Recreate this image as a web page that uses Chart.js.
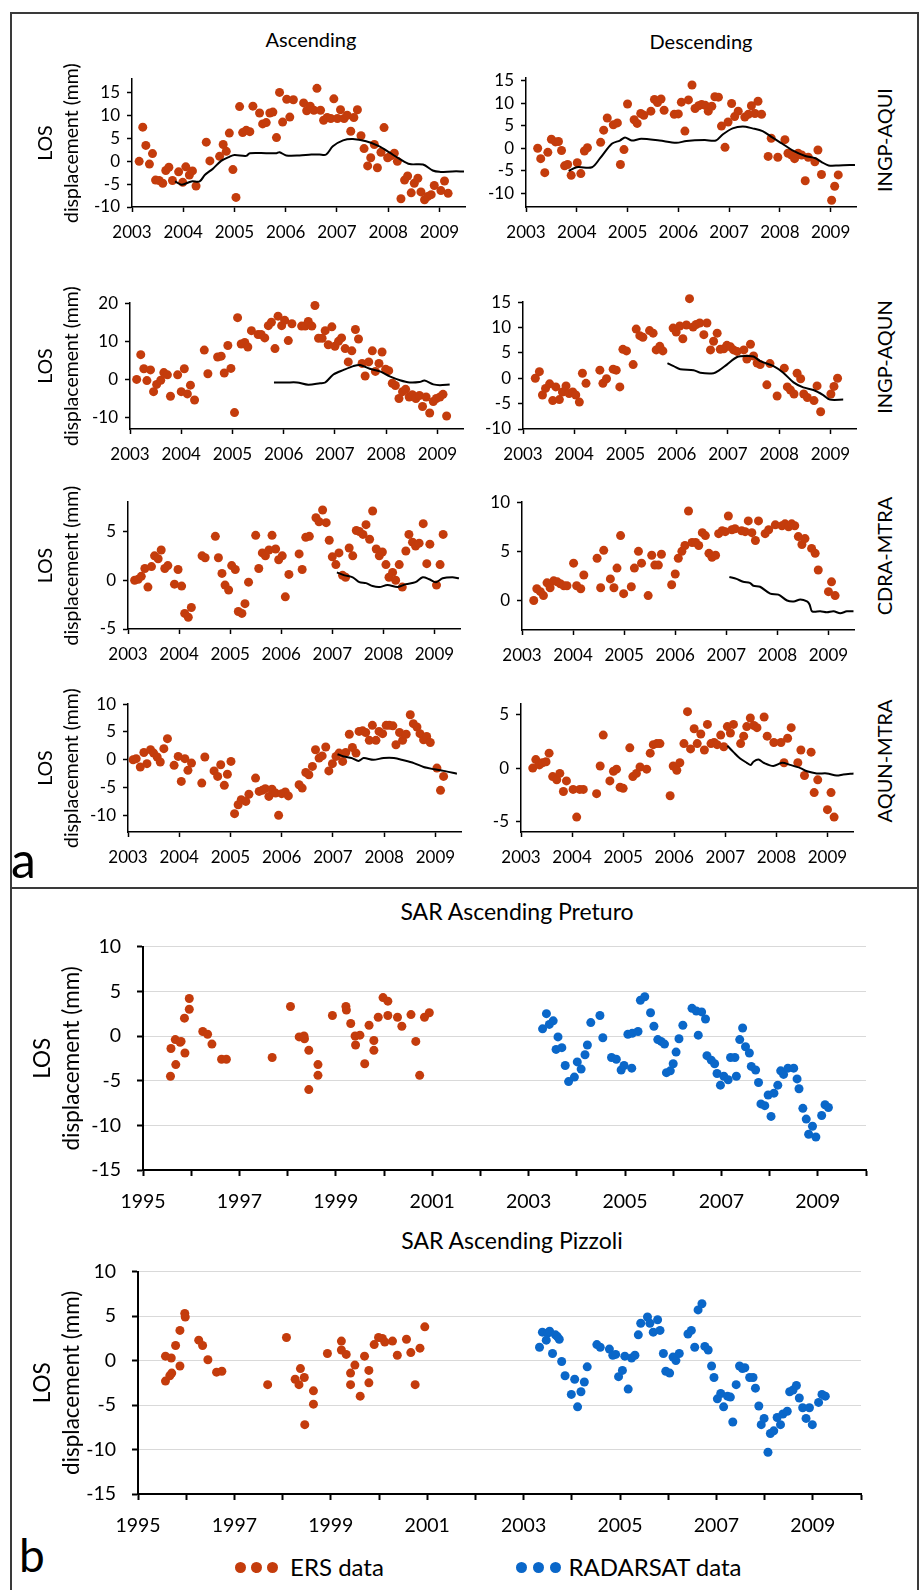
<!DOCTYPE html>
<html>
<head>
<meta charset="utf-8">
<script src="https://cdn.jsdelivr.net/npm/chart.js@4.4.1/dist/chart.umd.min.js"></script>
<style>
  body { margin: 0; background: #fff; }
  #page { position: relative; width: 919px; height: 1590px; overflow: hidden; font-family: Lato, sans-serif; color: #000; }
  canvas, .lbl, .frame { position: absolute; }
  .frame { border: 2px solid #3a3a3a; box-sizing: border-box; }
  .lbl { white-space: nowrap; line-height: 1; }
  .mid { transform: translate(-50%, -50%); }
  .side { transform: translate(-50%, -50%) rotate(-90deg); font-size: 20px; }
  .dot { position: absolute; width: 11px; height: 11px; border-radius: 50%; }
</style>
</head>
<body>
<div id="page">
  <div class="frame" style="left:10px; top:12px; width:909px; height:877px"></div>
  <div class="frame" style="left:10px; top:887px; width:909px; height:720px"></div>

  <div class="lbl mid" style="left:311px; top:39px; font-size:20px">Ascending</div>
  <div class="lbl mid" style="left:701px; top:41px; font-size:20px">Descending</div>
  <div class="lbl side" style="left:884px; top:140px">INGP-AQUI</div>
  <div class="lbl side" style="left:884px; top:357px">INGP-AQUN</div>
  <div class="lbl side" style="left:884px; top:556px">CDRA-MTRA</div>
  <div class="lbl side" style="left:884px; top:761px">AQUN-MTRA</div>
  <div class="lbl" style="left:11px; top:834px; font-size:50px">a</div>

  <div class="lbl mid" style="left:517px; top:911px; font-size:23px">SAR Ascending Preturo</div>
  <div class="lbl mid" style="left:512px; top:1240px; font-size:23px">SAR Ascending Pizzoli</div>
  <div class="lbl" style="left:19px; top:1532px; font-size:46px">b</div>

  <div class="dot" style="left:235px; top:1562px; background:#c43c0c"></div>
  <div class="dot" style="left:251px; top:1562px; background:#c43c0c"></div>
  <div class="dot" style="left:267px; top:1562px; background:#c43c0c"></div>
  <div class="lbl mid" style="left:337px; top:1567px; font-size:24px">ERS data</div>
  <div class="dot" style="left:516px; top:1562px; background:#0a67c9"></div>
  <div class="dot" style="left:533px; top:1562px; background:#0a67c9"></div>
  <div class="dot" style="left:550px; top:1562px; background:#0a67c9"></div>
  <div class="lbl mid" style="left:655px; top:1567px; font-size:24px">RADARSAT data</div>
</div>

<script>
// tick labels
const yearsA = [2003, 2004, 2005, 2006, 2007, 2008, 2009]
const yearsB = [1995, 1996, 1997, 1998, 1999, 2000, 2001, 2002, 2003, 2004, 2005, 2006, 2007, 2008, 2009, 2010]

// panel a, INGP-AQUI
const ascAquiSar = [[2003.14,0],[2003.21,7.5],[2003.27,3.5],[2003.34,-0.6],[2003.4,1.7],[2003.46,-4.1],[2003.53,-4.2],[2003.6,-4.8],[2003.66,-2],[2003.72,-1.3],[2003.79,-4.2],[2003.91,-2.3],[2003.99,-4.6],[2004.05,-1.2],[2004.12,-3],[2004.18,-2.1],[2004.25,-5.4],[2004.45,4.2],[2004.52,0.1],[2004.71,1.1],[2004.78,3.7],[2004.84,2.2],[2004.9,6.2],[2004.97,-1.8],[2005.03,-7.9],[2005.1,12],[2005.16,6.3],[2005.23,6.8],[2005.3,6.5],[2005.36,12.1],[2005.49,10.6],[2005.55,8.2],[2005.62,8.5],[2005.69,10.6],[2005.75,10.8],[2005.82,5.2],[2005.88,15.1],[2005.94,8.6],[2006.02,13.6],[2006.08,9.7],[2006.15,13.5],[2006.35,12.8],[2006.41,11.1],[2006.48,12.1],[2006.55,11.2],[2006.61,16],[2006.68,11.2],[2006.74,9],[2006.81,9.6],[2006.88,9.4],[2006.94,13.7],[2007.01,9.4],[2007.07,11.3],[2007.14,9.4],[2007.2,10.1],[2007.27,6.6],[2007.33,9.6],[2007.4,11.3],[2007.47,5.6],[2007.53,2.8],[2007.6,-1],[2007.66,0.8],[2007.73,3.7],[2007.79,-1.4],[2007.86,2],[2007.92,7.4],[2007.99,0.8],[2008.05,1.2],[2008.12,1.8],[2008.18,0],[2008.25,-8.2],[2008.32,-4.1],[2008.38,-3.2],[2008.45,-6.9],[2008.51,-4.8],[2008.58,-3.7],[2008.64,-6.7],[2008.71,-8.4],[2008.77,-7.7],[2008.84,-7.3],[2008.9,-5.3],[2009.03,-6.4],[2009.1,-4.3],[2009.17,-7]]
const ascAquiGps = [[2003.84,-4.4],[2003.97,-5.1],[2004.16,-4.4],[2004.32,-4.4],[2004.42,-3],[2004.58,-1.6],[2004.74,0.1],[2004.9,1],[2005,1.4],[2005.23,1.2],[2005.3,1.8],[2005.62,1.8],[2005.82,1.8],[2005.88,2],[2006.01,1.3],[2006.27,1.3],[2006.5,1.5],[2006.66,1.5],[2006.79,1.5],[2006.92,3.3],[2007.12,4.6],[2007.31,4.9],[2007.57,4.4],[2007.83,3.3],[2008.03,1.9],[2008.23,0.5],[2008.42,-0.6],[2008.68,-0.7],[2008.87,-2],[2009,-2.3],[2009.25,-2.2],[2009.48,-2.2]]
const descAquiSar = [[2003.23,0],[2003.29,-2.3],[2003.37,-5.4],[2003.43,-0.9],[2003.5,2],[2003.58,1.4],[2003.64,1.5],[2003.7,-0.5],[2003.76,-3.9],[2003.82,-3.6],[2003.89,-6],[2004.01,-3.2],[2004.08,-5.6],[2004.15,-0.6],[2004.21,0.1],[2004.47,1.3],[2004.53,4],[2004.6,6.7],[2004.72,5.2],[2004.8,5.6],[2004.86,-3.6],[2004.93,-0.3],[2005,9.8],[2005.13,6.3],[2005.19,5.5],[2005.26,7.7],[2005.32,7.3],[2005.46,8.2],[2005.53,10.8],[2005.59,10.1],[2005.66,10.9],[2005.72,8.4],[2005.92,7.5],[2006,7.6],[2006.06,10.2],[2006.13,3.8],[2006.2,10.7],[2006.27,14],[2006.33,8.8],[2006.4,9.4],[2006.46,9.7],[2006.53,9.5],[2006.59,8.2],[2006.66,9.3],[2006.72,11.4],[2006.79,11.3],[2006.85,4.9],[2006.92,0.2],[2006.98,5.8],[2007.05,9.9],[2007.11,7],[2007.18,8.2],[2007.31,6.9],[2007.38,7.5],[2007.44,9.4],[2007.51,7.7],[2007.57,10.4],[2007.64,7.5],[2007.77,-1.8],[2007.83,2.2],[2007.96,-2],[2008.1,1.9],[2008.16,-1.1],[2008.23,-1.5],[2008.29,-2.3],[2008.36,-1.1],[2008.43,-1.5],[2008.5,-7.2],[2008.56,-2],[2008.69,-3],[2008.75,-0.4],[2008.82,-5.8],[2009.02,-11.5],[2009.08,-8.4],[2009.15,-5.9]]
const descAquiGps = [[2003.84,-5],[2004,-4.2],[2004.3,-4.2],[2004.46,-2.2],[2004.69,1],[2004.85,1.7],[2004.95,2.4],[2005.08,1.7],[2005.27,2.1],[2005.63,1.7],[2005.96,1.2],[2006.16,1.6],[2006.52,1.8],[2006.74,1.7],[2006.88,3.1],[2007.07,4.4],[2007.27,4.8],[2007.46,4.4],[2007.66,3.8],[2007.85,2.4],[2008.05,1],[2008.24,-0.4],[2008.5,-1.7],[2008.7,-2.2],[2008.83,-3.1],[2008.96,-3.8],[2009.16,-3.8],[2009.48,-3.7]]

// panel a, INGP-AQUN
const ascAqunSar = [[2003.13,0],[2003.21,6.5],[2003.27,2.8],[2003.33,-0.3],[2003.4,2.5],[2003.46,-3.2],[2003.52,-1.3],[2003.6,-0.2],[2003.66,1.8],[2003.73,1.2],[2003.79,-4.4],[2003.93,1.2],[2004,-3.2],[2004.06,2.8],[2004.12,-3.8],[2004.18,-1.5],[2004.26,-5.4],[2004.45,7.7],[2004.52,1.5],[2004.71,5.9],[2004.78,6.1],[2004.84,1.7],[2004.91,8.9],[2004.97,2.9],[2005.04,-8.7],[2005.1,16.2],[2005.17,9.3],[2005.24,9.7],[2005.3,8.5],[2005.37,12.8],[2005.5,11.8],[2005.56,11.8],[2005.63,10.9],[2005.7,14.1],[2005.76,15],[2005.83,8.1],[2005.89,16.6],[2005.96,14.1],[2006.02,15.5],[2006.09,10.2],[2006.16,14.6],[2006.35,14],[2006.42,14],[2006.48,15.2],[2006.55,14],[2006.61,19.4],[2006.68,10.8],[2006.75,10.8],[2006.81,12.8],[2006.87,9.1],[2006.94,13.8],[2007,8.7],[2007.07,10],[2007.13,10.9],[2007.2,8.1],[2007.26,4.6],[2007.33,7.5],[2007.4,13.1],[2007.46,10.6],[2007.53,4.2],[2007.59,0.9],[2007.66,4.6],[2007.73,7.5],[2007.79,2.1],[2007.86,4.2],[2007.92,7.2],[2007.99,2.7],[2008.05,2.3],[2008.12,-1],[2008.18,-1.6],[2008.25,-5],[2008.32,-3.2],[2008.38,-2.6],[2008.45,-4.6],[2008.51,-4],[2008.58,-5],[2008.65,-4.2],[2008.71,-7.1],[2008.78,-4.6],[2008.85,-8.8],[2008.92,-5.8],[2008.98,-5],[2009.05,-4.6],[2009.11,-3.9],[2009.18,-9.6]]
const ascAqunGps = [[2005.81,-0.8],[2006.06,-0.8],[2006.26,-0.8],[2006.48,-1.4],[2006.71,-1],[2006.81,-0.8],[2006.97,1.3],[2007.17,2.5],[2007.36,3.5],[2007.49,3.8],[2007.68,2.8],[2007.88,2.1],[2008.07,0.8],[2008.27,-0.2],[2008.46,-0.8],[2008.65,-0.7],[2008.75,-0.3],[2008.92,-1.3],[2009.05,-1.5],[2009.24,-1.3]]
const descAqunSar = [[2003.24,0],[2003.32,1.3],[2003.38,-3.3],[2003.44,-2],[2003.52,-1.1],[2003.58,-4.4],[2003.64,-1.7],[2003.71,-4.2],[2003.77,-2.7],[2003.84,-1.5],[2003.9,-3],[2003.97,-2.7],[2004.03,-3.3],[2004.1,-4.7],[2004.16,1],[2004.23,-1],[2004.5,1.6],[2004.56,-1],[2004.63,-0.1],[2004.76,1.8],[2004.82,1.6],[2004.89,-1.7],[2004.95,5.7],[2005.02,5.4],[2005.15,2.7],[2005.21,9.7],[2005.28,8.4],[2005.34,8.1],[2005.47,9.4],[2005.54,8.9],[2005.6,5.6],[2005.67,6.3],[2005.73,5.4],[2005.93,9.9],[2005.99,9.1],[2006.06,10.3],[2006.12,7.8],[2006.19,10.5],[2006.25,15.7],[2006.32,10.1],[2006.38,10.6],[2006.45,10.9],[2006.53,8.6],[2006.59,10.9],[2006.66,5.6],[2006.72,7.3],[2006.79,8.9],[2006.85,5.7],[2006.92,5.8],[2006.98,6.5],[2007.05,6.2],[2007.11,5.6],[2007.18,5.3],[2007.31,5.6],[2007.37,3.8],[2007.44,6.7],[2007.5,4.4],[2007.57,3],[2007.63,2.7],[2007.76,-1.3],[2007.82,2.9],[2007.96,-3.5],[2008.1,2],[2008.16,-1.7],[2008.22,-2.3],[2008.29,-3.1],[2008.35,1],[2008.42,-0.1],[2008.48,-3.1],[2008.55,-3.8],[2008.68,-4.4],[2008.74,-1.5],[2008.81,-6.6],[2009.01,-3.1],[2009.07,-1.6],[2009.14,0]]
const descAqunGps = [[2005.82,3],[2005.94,2.4],[2006.07,1.8],[2006.33,1.6],[2006.46,1.1],[2006.72,1],[2006.82,1.5],[2006.98,2.7],[2007.18,4.2],[2007.37,4.4],[2007.5,4.3],[2007.63,3.4],[2007.89,2.4],[2008.08,1.1],[2008.28,-0.8],[2008.47,-1.8],[2008.67,-2.3],[2008.86,-3.3],[2008.99,-4.2],[2009.25,-4.2]]

// panel a, CDRA-MTRA
const ascCdraSar = [[2003.13,0],[2003.2,0.1],[2003.26,0.4],[2003.33,1.2],[2003.39,-0.7],[2003.46,1.4],[2003.52,2.5],[2003.59,2.2],[2003.65,3.1],[2003.72,1.2],[2003.78,1.5],[2003.91,-0.4],[2003.98,1.1],[2004.05,-0.6],[2004.11,-3.4],[2004.18,-3.8],[2004.24,-2.8],[2004.45,2.5],[2004.51,2.3],[2004.71,4.5],[2004.77,2.3],[2004.84,0.7],[2004.9,-0.5],[2004.97,-1],[2005.03,1.5],[2005.1,1.1],[2005.16,-3.2],[2005.23,-3.4],[2005.29,-2.4],[2005.36,-0.2],[2005.5,4.6],[2005.56,1.2],[2005.63,2.8],[2005.69,2.5],[2005.76,3.1],[2005.82,4.6],[2005.89,3.2],[2005.95,2.1],[2006.02,2.5],[2006.08,-1.7],[2006.15,0.6],[2006.35,2.7],[2006.41,1.1],[2006.48,4.4],[2006.55,4.5],[2006.61,8.8],[2006.68,6.4],[2006.74,6],[2006.81,7.2],[2006.88,5.9],[2006.94,4.1],[2007,2.4],[2007.07,1.6],[2007.13,2.8],[2007.2,0.5],[2007.26,0.3],[2007.33,3.3],[2007.4,2.5],[2007.47,5.1],[2007.53,5],[2007.6,4.7],[2007.66,5.7],[2007.73,4.2],[2007.79,7.1],[2007.86,3.2],[2007.92,2.5],[2007.98,2.9],[2008.05,1.6],[2008.11,0.3],[2008.18,0.8],[2008.24,0],[2008.31,1.6],[2008.37,-0.7],[2008.44,3],[2008.5,4.7],[2008.57,3.9],[2008.63,3.5],[2008.7,3.8],[2008.78,5.8],[2008.85,1.7],[2008.91,3.7],[2009.04,-0.5],[2009.11,1.6],[2009.17,4.7]]
const ascCdraGps = [[2007.09,0.8],[2007.24,0.5],[2007.4,0.3],[2007.53,-0.2],[2007.66,-0.3],[2007.79,-0.6],[2007.92,-0.7],[2008.08,-0.5],[2008.28,-0.7],[2008.44,-0.4],[2008.63,-0.2],[2008.77,0.3],[2008.9,0.1],[2009.03,-0.2],[2009.16,0.2],[2009.35,0.3],[2009.48,0.2]]
const descCdraSar = [[2003.23,0],[2003.29,1.2],[2003.36,0.9],[2003.42,0.5],[2003.49,1.8],[2003.55,1.3],[2003.62,2],[2003.69,1.9],[2003.75,1.7],[2003.82,1.5],[2003.88,1.5],[2004.01,3.8],[2004.07,1.5],[2004.15,1.2],[2004.21,2.6],[2004.47,4.3],[2004.54,1.3],[2004.6,5.1],[2004.73,2.2],[2004.8,1.3],[2004.86,3.3],[2004.93,6.6],[2004.99,0.7],[2005.14,1.4],[2005.2,3.3],[2005.28,5],[2005.34,3.8],[2005.47,0.5],[2005.54,4.6],[2005.6,3.6],[2005.67,3.6],[2005.73,4.7],[2005.93,1.6],[2006,2.7],[2006.06,4.3],[2006.13,5],[2006.19,5.6],[2006.26,9.1],[2006.33,5.9],[2006.4,5.9],[2006.46,5.6],[2006.53,6.9],[2006.59,6.6],[2006.66,4.8],[2006.72,4.4],[2006.79,4.6],[2006.85,6.8],[2006.92,7.1],[2006.98,7],[2007.04,8.6],[2007.11,7.2],[2007.17,7.3],[2007.3,7.1],[2007.37,7],[2007.43,8.1],[2007.5,6.9],[2007.57,6.1],[2007.63,8.1],[2007.76,6.8],[2007.83,7.2],[2007.96,7.7],[2008.09,7.6],[2008.15,7.8],[2008.22,7.5],[2008.28,7.8],[2008.34,7.6],[2008.41,6.5],[2008.48,5.7],[2008.54,6.3],[2008.67,5.3],[2008.74,4.8],[2008.8,3.1],[2009,0.9],[2009.06,1.9],[2009.13,0.5]]
const descCdraGps = [[2007.06,2.4],[2007.2,2.2],[2007.33,1.9],[2007.46,1.8],[2007.53,1.5],[2007.66,1.4],[2007.86,0.7],[2008.02,0.6],[2008.19,0],[2008.32,-0.1],[2008.45,0.1],[2008.58,-0.1],[2008.63,-0.4],[2008.68,-1.1],[2008.84,-1.1],[2008.97,-1.2],[2009.1,-1.1],[2009.23,-1.3],[2009.36,-1.1],[2009.49,-1.1]]

// panel a, AQUN-MTRA
const ascMtraSar = [[2003.1,0],[2003.16,0.2],[2003.24,-1.3],[2003.31,1.3],[2003.37,-0.7],[2003.44,1.8],[2003.5,1.2],[2003.57,0.5],[2003.63,-0.4],[2003.7,2],[2003.77,3.8],[2003.9,-1],[2003.98,0.6],[2004.04,-3.9],[2004.11,0.2],[2004.17,-1.9],[2004.24,-0.6],[2004.44,-4.2],[2004.5,0.5],[2004.68,-2],[2004.75,-3],[2004.81,-0.9],[2004.88,-4.6],[2004.94,-2.6],[2005.01,-0.3],[2005.08,-9.7],[2005.15,-8.1],[2005.21,-7.2],[2005.3,-7.5],[2005.36,-6.2],[2005.49,-3.3],[2005.56,-5.7],[2005.62,-5.5],[2005.68,-5.2],[2005.75,-6.6],[2005.81,-5.3],[2005.88,-6],[2005.94,-10],[2006,-6.1],[2006.07,-5.8],[2006.13,-6.5],[2006.34,-4.5],[2006.4,-5.1],[2006.47,-2.3],[2006.53,-2.7],[2006.6,-1.2],[2006.66,1.8],[2006.73,0.3],[2006.79,0.7],[2006.86,2.3],[2006.92,-2],[2006.99,-0.7],[2007.06,0.6],[2007.12,1.2],[2007.19,-0.3],[2007.25,1.3],[2007.32,4.6],[2007.38,2.2],[2007.45,1.2],[2007.51,5.1],[2007.58,5.2],[2007.64,4.9],[2007.71,3.5],[2007.77,6.2],[2007.84,3.5],[2007.9,5.1],[2007.97,4.7],[2008.04,6.2],[2008.1,6.2],[2008.17,6.1],[2008.23,2.7],[2008.3,4.9],[2008.36,3.5],[2008.43,4.6],[2008.51,8.1],[2008.57,6.5],[2008.64,5.9],[2008.7,4.7],[2008.77,3.6],[2008.83,4.2],[2008.9,3.1],[2009.03,-1.5],[2009.1,-5.5],[2009.16,-3]]
const ascMtraGps = [[2007.09,1],[2007.21,0.6],[2007.37,0.3],[2007.5,-0.2],[2007.6,0.3],[2007.79,0],[2007.99,0.3],[2008.19,0.3],[2008.38,-0.1],[2008.58,-0.6],[2008.77,-1.3],[2008.97,-1.7],[2009.16,-2],[2009.42,-2.5]]
const descMtraSar = [[2003.23,0],[2003.29,0.8],[2003.36,0.3],[2003.42,0.5],[2003.49,0.6],[2003.55,1.4],[2003.62,-0.8],[2003.7,-1.1],[2003.76,-0.5],[2003.83,-2.2],[2003.89,-1.2],[2004.02,-2],[2004.09,-4.6],[2004.15,-2],[2004.22,-2],[2004.48,-2.4],[2004.55,0.2],[2004.61,3.1],[2004.74,-1.2],[2004.81,-0.3],[2004.87,-0.1],[2004.94,-1.8],[2005,-1.9],[2005.13,1.9],[2005.19,-0.8],[2005.26,-0.5],[2005.33,0.1],[2005.46,-0.1],[2005.53,1.4],[2005.59,2.2],[2005.66,2.3],[2005.72,2.3],[2005.92,-2.6],[2005.98,0.2],[2006.05,-0.2],[2006.11,0.5],[2006.19,2.3],[2006.26,5.3],[2006.32,1.8],[2006.39,3.7],[2006.45,2.3],[2006.52,3.2],[2006.59,1.7],[2006.65,4.1],[2006.72,2.3],[2006.78,2.4],[2006.84,2.2],[2006.91,3.1],[2006.97,2],[2007.04,3.9],[2007.1,3.3],[2007.16,4.1],[2007.3,2.3],[2007.36,3],[2007.42,3.9],[2007.49,4.7],[2007.56,4],[2007.62,3.8],[2007.76,4.8],[2007.82,3],[2007.95,2.4],[2008.09,2.4],[2008.15,0.5],[2008.22,2.8],[2008.29,3.8],[2008.42,0.5],[2008.48,1.7],[2008.55,-0.7],[2008.68,1.5],[2008.74,-2.3],[2008.81,-1.1],[2009,-3.9],[2009.07,-2.3],[2009.13,-4.6]]
const descMtraGps = [[2007.04,2.1],[2007.16,1.5],[2007.29,0.9],[2007.42,0.5],[2007.5,0.3],[2007.55,0.6],[2007.65,0.8],[2007.75,0.5],[2007.94,0.2],[2008.11,0.5],[2008.27,0.3],[2008.47,0],[2008.6,-0.3],[2008.79,-0.5],[2008.99,-0.5],[2009.18,-0.7],[2009.31,-0.6],[2009.51,-0.5]]

// panel b, Preturo
const preturoErs = [[1995.57,-4.5],[1995.58,-1.4],[1995.67,-0.4],[1995.68,-3.2],[1995.77,-0.7],[1995.79,-0.6],[1995.86,2],[1995.87,-1.9],[1995.96,3],[1995.96,4.2],[1996.24,0.5],[1996.34,0.2],[1996.43,-0.9],[1996.63,-2.6],[1996.73,-2.6],[1997.68,-2.4],[1998.06,3.3],[1998.24,-0.1],[1998.34,0],[1998.35,-0.3],[1998.44,-1.6],[1998.44,-6],[1998.63,-3.2],[1998.63,-4.4],[1998.93,2.3],[1999.21,3.3],[1999.22,2.9],[1999.31,1.4],[1999.4,0],[1999.41,-1],[1999.5,0.1],[1999.6,-3.1],[1999.69,1.2],[1999.79,-0.5],[1999.79,-1.6],[1999.88,2.1],[1999.98,4.3],[2000.08,3.9],[2000.08,2.3],[2000.28,2.1],[2000.37,1.1],[2000.56,2.4],[2000.66,-0.6],[2000.74,-4.4],[2000.84,2.1],[2000.94,2.6]]
const preturoRadarsat = [[2003.29,0.8],[2003.37,2.5],[2003.43,1.3],[2003.51,1.7],[2003.57,-1.5],[2003.61,-0.1],[2003.69,-1.3],[2003.76,-3.3],[2003.83,-5.1],[2003.95,-4.6],[2004.01,-2.9],[2004.09,-3.7],[2004.17,-2.1],[2004.22,-1],[2004.29,1.5],[2004.48,2.3],[2004.54,-0.2],[2004.72,-2.4],[2004.82,-2.6],[2004.92,-3.8],[2004.98,-3.3],[2005.06,0.2],[2005.14,-3.6],[2005.15,0.3],[2005.27,0.5],[2005.32,4],[2005.41,4.4],[2005.53,2.6],[2005.6,1.1],[2005.68,-0.4],[2005.75,-0.6],[2005.82,-0.9],[2005.86,-4.1],[2005.94,-3.9],[2006,-3.1],[2006.06,-1.8],[2006.12,-0.3],[2006.2,1.2],[2006.39,3.1],[2006.48,2.8],[2006.52,0.1],[2006.59,2.7],[2006.67,1.9],[2006.7,-2.2],[2006.79,-2.7],[2006.86,-3.1],[2006.91,-4.2],[2006.98,-5.5],[2007.05,-4.5],[2007.14,-4.9],[2007.19,-2.4],[2007.28,-2.4],[2007.31,-4.5],[2007.38,-0.4],[2007.44,0.9],[2007.5,-1.2],[2007.58,-1.9],[2007.62,-3.4],[2007.71,-3.8],[2007.77,-5.2],[2007.82,-7.6],[2007.9,-7.8],[2007.97,-6.6],[2008.03,-9],[2008.09,-6.4],[2008.17,-5.5],[2008.23,-3.9],[2008.29,-4.3],[2008.38,-3.6],[2008.5,-3.6],[2008.57,-4.8],[2008.61,-5.9],[2008.69,-8.1],[2008.76,-9.3],[2008.81,-11],[2008.89,-10.1],[2008.96,-11.3],[2009.08,-8.9],[2009.15,-7.7],[2009.22,-8]]

// panel b, Pizzoli
const pizzoliErs = [[1995.57,-2.3],[1995.57,0.5],[1995.66,-1.7],[1995.69,0.3],[1995.7,-1.4],[1995.78,1.7],[1995.87,3.4],[1995.87,-0.6],[1995.97,5.3],[1995.98,4.9],[1996.26,2.3],[1996.34,1.7],[1996.45,0.1],[1996.63,-1.3],[1996.74,-1.2],[1997.69,-2.7],[1998.08,2.6],[1998.26,-2.1],[1998.34,-2.7],[1998.37,-0.9],[1998.45,-1.9],[1998.46,-7.2],[1998.64,-3.4],[1998.64,-4.9],[1998.93,0.8],[1999.22,2.2],[1999.22,1.2],[1999.32,0.7],[1999.41,-1.4],[1999.41,-2.7],[1999.5,-0.5],[1999.61,-4],[1999.7,0.5],[1999.79,-1.1],[1999.79,-2.5],[1999.9,1.8],[1999.99,2.6],[2000.07,2.5],[2000.12,2.1],[2000.28,2.2],[2000.38,0.6],[2000.57,2.4],[2000.66,0.9],[2000.75,-2.7],[2000.85,1.4],[2000.95,3.8]]
const pizzoliRadarsat = [[2003.33,1.5],[2003.39,3.2],[2003.47,2.3],[2003.5,3.1],[2003.54,3.3],[2003.6,0.8],[2003.66,2.9],[2003.7,2.7],[2003.74,2.4],[2003.79,-0.1],[2003.86,-1.7],[2003.99,-3.8],[2004.06,-2.1],[2004.12,-5.2],[2004.19,-3.5],[2004.26,-2.4],[2004.32,-0.7],[2004.52,1.8],[2004.59,1.5],[2004.78,1.3],[2004.85,0.6],[2004.91,0.7],[2004.97,-1.8],[2005.05,-1.1],[2005.1,0.5],[2005.17,-3.2],[2005.24,0.3],[2005.31,0.6],[2005.38,2.9],[2005.43,4.2],[2005.57,4.9],[2005.62,4.2],[2005.69,3.2],[2005.78,4.6],[2005.83,3.4],[2005.9,0.8],[2005.95,-1.2],[2006.03,-1.4],[2006.1,0.4],[2006.16,0],[2006.23,0.8],[2006.41,3],[2006.48,3.4],[2006.55,1.5],[2006.62,5.7],[2006.7,6.4],[2006.76,1.6],[2006.83,1.2],[2006.9,-0.6],[2006.95,-1.9],[2007.02,-4.3],[2007.09,-3.7],[2007.15,-5.2],[2007.23,-4],[2007.29,-4.1],[2007.34,-6.9],[2007.41,-2.7],[2007.48,-0.6],[2007.54,-0.9],[2007.59,-0.8],[2007.69,-1.9],[2007.76,-1.9],[2007.81,-3.1],[2007.88,-5.1],[2007.93,-7.2],[2007.99,-6.5],[2008.07,-10.3],[2008.12,-8.2],[2008.19,-7.9],[2008.26,-6.4],[2008.33,-7.2],[2008.38,-6],[2008.47,-5.7],[2008.52,-3.5],[2008.59,-3.3],[2008.66,-2.8],[2008.72,-4.2],[2008.79,-5.3],[2008.86,-6.5],[2008.93,-5.3],[2008.99,-7.2],[2009.12,-4.7],[2009.19,-3.8],[2009.26,-4]]

const sarRed = "#c43c0c"
const radarBlue = "#0a67c9"
const gpsBlack = "#000"

Chart.defaults.font.family = "Lato"

const styleA = { padTop: 12, padRight: 12, xAxisH: 44, tickLen: 5, xPad: 10, yPad: 7, tickFont: 17, axisW: 1.5, dotRadius: 4.5, titleFont: 19.5, titleLH: 1.33, titlePad: 18 }
const styleB = { padTop: 14, padRight: 12, xAxisH: 48, tickLen: 6, xPad: 14, yPad: 16, tickFont: 19.5, axisW: 2, dotRadius: 4.5, titleFont: 22.5, titleLH: 1.29, titlePad: 13.5, gridColor: "#d9d9d9" }

const page = document.getElementById("page")

function placeCanvas(plot, yAxisW, s) {
  const c = document.createElement("canvas")
  const w = plot.right - plot.left + yAxisW + s.padRight
  const h = plot.bottom - plot.top + s.padTop + s.xAxisH
  c.width = w
  c.height = h
  c.style.left = (plot.left - yAxisW) + "px"
  c.style.top = (plot.top - s.padTop) + "px"
  c.style.width = w + "px"
  c.style.height = h + "px"
  page.appendChild(c)
  return c
}

const fixedTicks = values => scale => { scale.ticks = values.map(v => ({ value: v })) }

function drawChart(p) {
  const s = p.style
  const canvas = placeCanvas(p.plot, p.yAxisW, s)

  // line first so it sits on top of the dots
  const datasets = p.series.map(d => ({
    data: d.points.map(([x, y]) => ({ x, y })),
    showLine: d.line,
    borderColor: d.color,
    backgroundColor: d.color,
    borderWidth: d.line ? 2 : 0,
    pointRadius: d.line ? 0 : s.dotRadius,
    tension: d.line ? 0.3 : 0,
    clip: false
  }))

  new Chart(canvas, {
    type: "scatter",
    data: { datasets },
    options: {
      responsive: false,
      animation: false,
      events: [],
      devicePixelRatio: 1,
      layout: { padding: { top: s.padTop, right: s.padRight, left: 0, bottom: 0 } },
      plugins: { legend: { display: false }, tooltip: { enabled: false } },
      scales: {
        x: {
          type: "linear",
          min: p.xMin,
          max: p.xMax,
          afterBuildTicks: fixedTicks(p.xTicks),
          afterFit: sc => { sc.height = s.xAxisH },
          grid: { display: true, drawOnChartArea: false, drawTicks: true, tickLength: s.tickLen, tickColor: "#000", tickWidth: s.axisW },
          border: { display: true, color: "#000", width: s.axisW },
          ticks: { autoSkip: false, maxRotation: 0, padding: s.xPad, color: "#000", font: { size: s.tickFont }, callback: p.xLabel }
        },
        y: {
          type: "linear",
          min: p.yMin,
          max: p.yMax,
          afterBuildTicks: fixedTicks(p.yTicks),
          afterFit: sc => { sc.width = p.yAxisW },
          grid: { display: true, drawOnChartArea: !!s.gridColor, color: s.gridColor || "#000", lineWidth: 1, drawTicks: true, tickLength: s.tickLen, tickColor: "#000", tickWidth: s.axisW },
          border: { display: true, color: "#000", width: s.axisW },
          ticks: { padding: s.yPad, color: "#000", font: { size: s.tickFont }, callback: v => String(v) },
          title: {
            display: !!p.yTitle,
            text: ["LOS", "displacement (mm)"],
            color: "#000",
            font: { size: s.titleFont, lineHeight: s.titleLH },
            padding: { top: s.titlePad, bottom: 0 }
          }
        }
      }
    }
  })
}

const labelA = v => String(v)
const labelB = v => (v % 2 === 1 ? String(v) : "")

function panelA(plot, yAxisW, yTitle, yMin, yMax, yTicks, sar, gps) {
  drawChart({
    style: styleA, plot, yAxisW, yTitle,
    xMin: 2003, xMax: 2009.5, xTicks: yearsA, xLabel: labelA,
    yMin, yMax, yTicks,
    series: [
      { points: gps, color: gpsBlack, line: true },
      { points: sar, color: sarRed, line: false }
    ]
  })
}

function panelB(plot, ers, radarsat) {
  drawChart({
    style: styleB, plot, yAxisW: plot.left - 15, yTitle: true,
    xMin: 1995, xMax: 2010, xTicks: yearsB, xLabel: labelB,
    yMin: -15, yMax: 10, yTicks: [-15, -10, -5, 0, 5, 10],
    series: [
      { points: ers, color: sarRed, line: false },
      { points: radarsat, color: radarBlue, line: false }
    ]
  })
}

panelA({ left: 132, right: 465, top: 74, bottom: 207 }, 117, true, -10, 18, [-10, -5, 0, 5, 10, 15], ascAquiSar, ascAquiGps)
panelA({ left: 526, right: 856, top: 73, bottom: 207 }, 50, false, -13, 15.5, [-10, -5, 0, 5, 10, 15], descAquiSar, descAquiGps)
panelA({ left: 130, right: 463, top: 298, bottom: 429 }, 115, true, -13, 20, [-10, -5, 0, 5, 10, 15, 20], ascAqunSar, ascAqunGps)
panelA({ left: 523, right: 856, top: 297, bottom: 429 }, 50, false, -10, 15, [-10, -5, 0, 5, 10, 15], descAqunSar, descAqunGps)
panelA({ left: 128, right: 460, top: 497, bottom: 629 }, 113, true, -5, 8, [-5, 0, 5], ascCdraSar, ascCdraGps)
panelA({ left: 522, right: 854, top: 497, bottom: 630 }, 50, false, -3, 10, [0, 5, 10], descCdraSar, descCdraGps)
panelA({ left: 128, right: 461, top: 699, bottom: 832 }, 113, true, -13, 10, [-10, -5, 0, 5, 10], ascMtraSar, ascMtraGps)
panelA({ left: 521, right: 853, top: 699, bottom: 832 }, 50, false, -6, 6, [-5, 0, 5], descMtraSar, descMtraGps)

panelB({ left: 143, right: 868, top: 933, bottom: 1170 }, preturoErs, preturoRadarsat)
panelB({ left: 138, right: 863, top: 1258, bottom: 1494 }, pizzoliErs, pizzoliRadarsat)
</script>
</body>
</html>
